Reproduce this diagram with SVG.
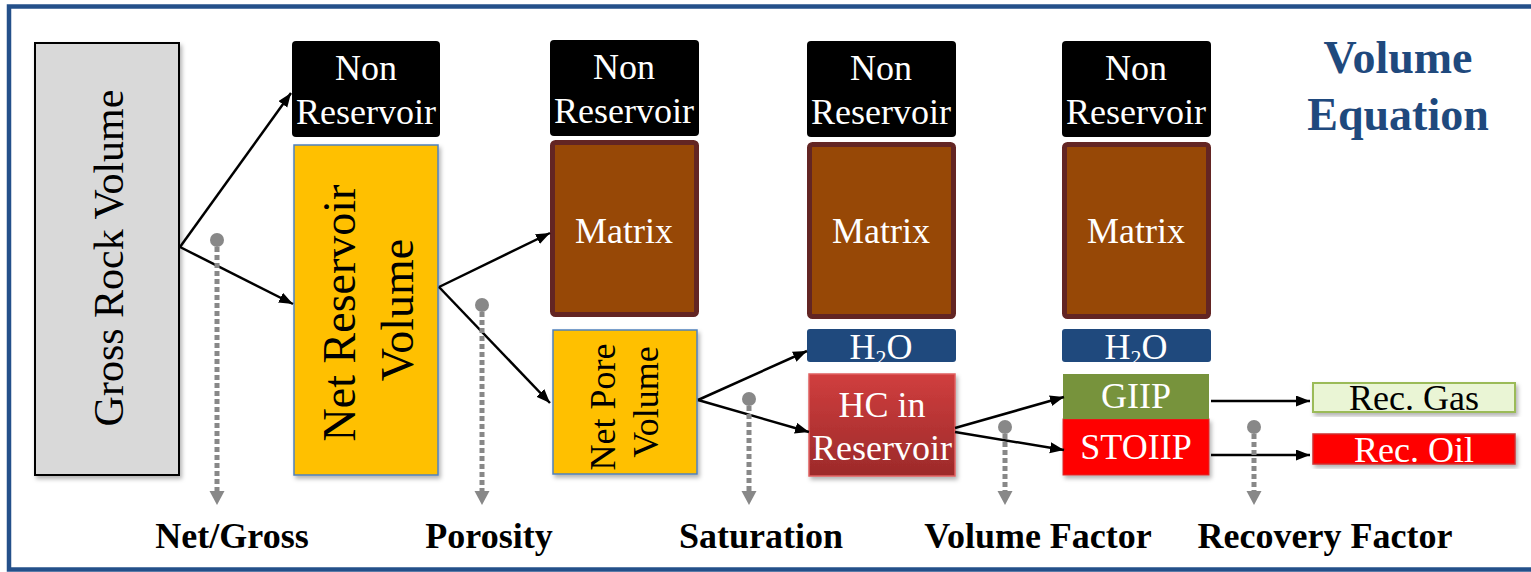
<svg xmlns="http://www.w3.org/2000/svg" width="1531" height="572" viewBox="0 0 1531 572">
<defs>
<style>
.serif{font-family:"Liberation Serif","Times New Roman",serif;}
.wt{fill:#fff;font-size:36px;text-anchor:middle;font-family:"Liberation Serif","Times New Roman",serif;}
.bt{fill:#000;font-size:36px;text-anchor:middle;font-family:"Liberation Serif","Times New Roman",serif;}
.lbl{fill:#000;font-size:36px;font-weight:bold;text-anchor:middle;font-family:"Liberation Serif","Times New Roman",serif;}
.nonres{fill:#000;}
.matrix{fill:#974806;stroke:#632523;stroke-width:5;}
.orange{fill:#FFC000;stroke:#4F81BD;stroke-width:1.5;}
.water{fill:#1F497D;}
.conn{stroke:#000;stroke-width:2.5;fill:none;marker-end:url(#arr);}
.dot{stroke:#888;stroke-width:5;stroke-dasharray:5 3;fill:none;}
.dotc{fill:#888;}
</style>
<marker id="arr" markerUnits="userSpaceOnUse" markerWidth="16" markerHeight="12" refX="14" refY="5.5" orient="auto">
<path d="M0,0 L14,5.5 L0,11 z" fill="#000"/>
</marker>
<filter id="sh" x="-10%" y="-10%" width="125%" height="125%">
<feDropShadow dx="2" dy="3" stdDeviation="2" flood-color="#000" flood-opacity="0.3"/>
</filter>
<linearGradient id="hcg" x1="0" y1="0" x2="0" y2="1">
<stop offset="0" stop-color="#D03E3E"/>
<stop offset="1" stop-color="#9C2A2A"/>
</linearGradient>
</defs>

<rect x="9" y="6.5" width="1540" height="563" fill="#fff" stroke="#24508A" stroke-width="4.5"/>

<g id="title">
<text x="1398" y="73" class="serif" font-size="46" font-weight="bold" fill="#1F497D" text-anchor="middle">Volume</text>
<text x="1398" y="130" class="serif" font-size="46" font-weight="bold" fill="#1F497D" text-anchor="middle">Equation</text>
</g>

<g id="grv">
<rect x="35" y="43" width="144" height="432" fill="#D9D9D9" stroke="#000" stroke-width="2" filter="url(#sh)"/>
<text transform="translate(107,258) rotate(-90)" x="0" y="16" class="bt" style="font-size:42px">Gross Rock Volume</text>
</g>

<g id="nonres1">
<rect x="292" y="41" width="148" height="96" rx="4" class="nonres"/>
<text x="366" y="80" class="wt">Non</text>
<text x="366" y="124" class="wt">Reservoir</text>
</g>
<g id="nrv">
<rect x="294" y="145" width="144" height="330" class="orange" filter="url(#sh)"/>
<text transform="translate(366,313) rotate(-90)" x="0" y="-11" class="bt" style="font-size:46px">Net Reservoir</text>
<text transform="translate(366,310) rotate(-90)" x="0" y="47" class="bt" style="font-size:46px">Volume</text>
</g>

<g id="nonres2">
<rect x="550" y="40" width="149" height="96" rx="4" class="nonres"/>
<text x="624" y="79" class="wt">Non</text>
<text x="624" y="123" class="wt">Reservoir</text>
</g>
<g id="matrix1">
<rect x="552.5" y="142.5" width="144" height="172" rx="3" class="matrix"/>
<text x="624" y="243" class="wt">Matrix</text>
</g>
<g id="npv">
<rect x="553" y="330" width="144" height="144" class="orange" filter="url(#sh)"/>
<text transform="translate(624,407) rotate(-90)" x="0" y="-9" class="bt">Net Pore</text>
<text transform="translate(624,402) rotate(-90)" x="0" y="34" class="bt">Volume</text>
</g>

<g id="nonres3">
<rect x="807" y="41" width="149" height="96" rx="4" class="nonres"/>
<text x="881" y="80" class="wt">Non</text>
<text x="881" y="124" class="wt">Reservoir</text>
</g>
<g id="matrix2">
<rect x="809.5" y="144.5" width="144" height="172" rx="3" class="matrix"/>
<text x="881" y="243" class="wt">Matrix</text>
</g>
<g id="water1">
<rect x="807" y="329" width="149" height="33" rx="3" class="water"/>
<text x="881" y="359" class="wt">H<tspan style="font-size:22px" dy="6">2</tspan><tspan dy="-6">O</tspan></text>
</g>
<g id="hc">
<rect x="809" y="374" width="146" height="102" fill="url(#hcg)" stroke="#E06060" stroke-width="1.5" filter="url(#sh)"/>
<text x="882" y="417" class="wt">HC in</text>
<text x="882" y="460" class="wt">Reservoir</text>
</g>

<g id="nonres4">
<rect x="1062" y="41" width="149" height="96" rx="4" class="nonres"/>
<text x="1136" y="80" class="wt">Non</text>
<text x="1136" y="124" class="wt">Reservoir</text>
</g>
<g id="matrix3">
<rect x="1064.5" y="144.5" width="144" height="172" rx="3" class="matrix"/>
<text x="1136" y="243" class="wt">Matrix</text>
</g>
<g id="water2">
<rect x="1062" y="329" width="149" height="33" rx="3" class="water"/>
<text x="1136" y="359" class="wt">H<tspan style="font-size:22px" dy="6">2</tspan><tspan dy="-6">O</tspan></text>
</g>
<g id="stoiip">
<rect x="1063" y="419" width="146" height="56" fill="#FF0000" stroke="#D83030" stroke-width="1" filter="url(#sh)"/>
<text x="1136" y="459" class="wt">STOIIP</text>
</g>
<g id="giip">
<rect x="1063" y="374" width="146" height="45" fill="#77933C"/>
<text x="1136" y="408" class="wt">GIIP</text>
</g>

<g id="recgas">
<rect x="1313" y="383" width="202" height="29" fill="#EAF5D5" stroke="#9BBB59" stroke-width="2" filter="url(#sh)"/>
<text x="1414" y="410" class="bt">Rec. Gas</text>
</g>
<g id="recoil">
<rect x="1313" y="434" width="202" height="30" fill="#FF0000" stroke="#D03030" stroke-width="1.5" filter="url(#sh)"/>
<text x="1414" y="462" class="wt">Rec. Oil</text>
</g>

<g id="connectors">
<line x1="180" y1="247" x2="291" y2="93" class="conn"/>
<line x1="180" y1="247" x2="293" y2="304" class="conn"/>
<line x1="439" y1="287" x2="550" y2="233" class="conn"/>
<line x1="439" y1="287" x2="550" y2="403" class="conn"/>
<line x1="698" y1="400" x2="807" y2="351" class="conn"/>
<line x1="698" y1="400" x2="809" y2="432" class="conn"/>
<line x1="955" y1="428" x2="1064" y2="397" class="conn"/>
<line x1="955" y1="432" x2="1064" y2="450" class="conn"/>
<line x1="1211" y1="401" x2="1310" y2="401" class="conn"/>
<line x1="1211" y1="455" x2="1310" y2="455" class="conn"/>
</g>

<g id="factor-arrows">
<circle cx="217" cy="240" r="7" class="dotc"/>
<line x1="217" y1="247" x2="217" y2="493" class="dot"/>
<path d="M209.5,491 L224.5,491 L217,505 z" class="dotc"/>
<circle cx="482" cy="305" r="7" class="dotc"/>
<line x1="482" y1="312" x2="482" y2="493" class="dot"/>
<path d="M474.5,491 L489.5,491 L482,505 z" class="dotc"/>
<circle cx="749" cy="399" r="7" class="dotc"/>
<line x1="749" y1="406" x2="749" y2="493" class="dot"/>
<path d="M741.5,491 L756.5,491 L749,505 z" class="dotc"/>
<circle cx="1005" cy="427" r="7" class="dotc"/>
<line x1="1005" y1="434" x2="1005" y2="493" class="dot"/>
<path d="M997.5,491 L1012.5,491 L1005,505 z" class="dotc"/>
<circle cx="1254" cy="427" r="7" class="dotc"/>
<line x1="1254" y1="434" x2="1254" y2="493" class="dot"/>
<path d="M1246.5,491 L1261.5,491 L1254,505 z" class="dotc"/>
</g>

<g id="labels">
<text x="232" y="548" class="lbl">Net/Gross</text>
<text x="489" y="548" class="lbl">Porosity</text>
<text x="761" y="548" class="lbl">Saturation</text>
<text x="1038" y="548" class="lbl">Volume Factor</text>
<text x="1325" y="548" class="lbl">Recovery Factor</text>
</g>
</svg>
